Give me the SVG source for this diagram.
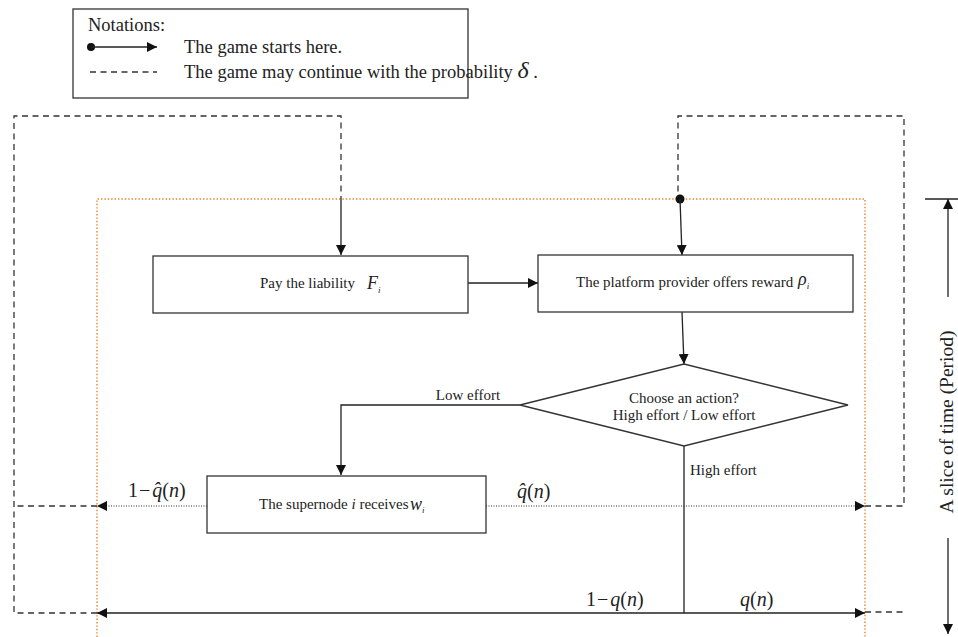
<svg xmlns="http://www.w3.org/2000/svg" width="958" height="637" viewBox="0 0 958 637">
<style>
text{font-family:"Liberation Serif","Times New Roman",serif;fill:#222}
.box{fill:#fff;stroke:#333;stroke-width:1.3}
.ln{fill:none;stroke:#222;stroke-width:1.3}
.dash{fill:none;stroke:#333;stroke-width:1.3;stroke-dasharray:6 4.5}
.dot{fill:none;stroke:#333;stroke-width:1.1;stroke-dasharray:1 1.5}
.or{fill:none;stroke:#e8822a;stroke-width:1.4;stroke-dasharray:1.4 2}
.t12{font-size:15px}
.t15{font-size:18.5px}
.m{font-style:italic;font-size:18px}
.mn{font-size:20px}
.i{font-style:italic}
</style>
<defs>
<marker id="ar" viewBox="0 0 10 10" refX="10" refY="5" markerWidth="10" markerHeight="10" markerUnits="userSpaceOnUse" orient="auto">
<path d="M0,0 L10,5 L0,10 z" fill="#111"/>
</marker>
</defs>

<g id="legend">
<rect x="73" y="9" width="395" height="89" class="box"/>
<text x="88" y="31" class="t15">Notations:</text>
<circle cx="91" cy="47" r="4" fill="#111"/>
<line x1="91" y1="47" x2="157" y2="47" class="ln" marker-end="url(#ar)"/>
<text x="184" y="53" class="t15">The game starts here.</text>
<line x1="90" y1="72" x2="157" y2="72" class="dash"/>
<text x="184" y="78" class="t15">The game may continue with the probability <tspan font-style="italic" font-size="24px">δ</tspan> .</text>
</g>

<g id="period-frame">
<path d="M97,637 V199 H865 V637" class="or"/>
</g>

<g id="connectors">
<path d="M97,613 H14 V116 H341 V199" class="dash"/>
<path d="M97,506 H14" class="dash"/>
<line x1="341" y1="199" x2="341" y2="255" class="ln" marker-end="url(#ar)"/>
<path d="M865,506 H904 V116 H678 V199" class="dash"/>
<path d="M865,612 H904" class="dash"/>
<circle cx="680" cy="199" r="4.5" fill="#111"/>
<line x1="680" y1="199" x2="682" y2="255" class="ln" marker-end="url(#ar)"/>
<line x1="468" y1="283" x2="538" y2="283" class="ln" marker-end="url(#ar)"/>
<line x1="682" y1="312" x2="684" y2="364" class="ln" marker-end="url(#ar)"/>
<path d="M520,405 H341 V475" class="ln" marker-end="url(#ar)"/>
<text x="468" y="400" class="t12" text-anchor="middle">Low effort</text>
<line x1="684" y1="446" x2="684" y2="613" class="ln"/>
<text x="690" y="475" class="t12">High effort</text>
<line x1="486" y1="506" x2="865" y2="506" class="dot" marker-end="url(#ar)"/>
<line x1="207" y1="506" x2="97" y2="506" class="dot" marker-end="url(#ar)"/>
<text x="517" y="498" class="mn"><tspan class="i">q̂</tspan>(<tspan class="i">n</tspan>)</text>
<text x="128" y="497" class="mn">1<tspan dx="1">−</tspan><tspan class="i" dx="2">q̂</tspan>(<tspan class="i">n</tspan>)</text>
<line x1="684" y1="613" x2="865" y2="613" class="ln" marker-end="url(#ar)"/>
<line x1="684" y1="613" x2="97" y2="613" class="ln" marker-end="url(#ar)"/>
<text x="586" y="606" class="mn">1<tspan dx="1">−</tspan><tspan class="i" dx="2">q</tspan>(<tspan class="i">n</tspan>)</text>
<text x="740" y="606" class="mn"><tspan class="i">q</tspan>(<tspan class="i">n</tspan>)</text>
</g>

<g id="pay-liability">
<rect x="153" y="256" width="315" height="57" class="box"/>
<text x="260" y="288" class="t12">Pay the liability</text>
<text x="367" y="289" class="m">F<tspan font-size="9px" dy="4">i</tspan></text>
</g>

<g id="platform-reward">
<rect x="538" y="255" width="315" height="57" class="box"/>
<text x="576" y="287" class="t12">The platform provider offers reward</text>
<text x="798" y="285" class="m" font-size="21px">ρ<tspan font-size="9px" dy="4">i</tspan></text>
</g>

<g id="choose-action">
<polygon points="520,405 684,364 848,405 684,446" class="box"/>
<text x="684" y="403" class="t12" text-anchor="middle">Choose an action?</text>
<text x="684" y="420" class="t12" text-anchor="middle">High effort / Low effort</text>
</g>

<g id="supernode">
<rect x="207" y="476" width="279" height="57" class="box"/>
<text x="259" y="509" class="t12" font-size="14px">The supernode <tspan class="i">i</tspan> receives</text>
<text x="410" y="510" class="m" font-size="21px">w<tspan font-size="9px" dy="3">i</tspan></text>
</g>

<g id="time-slice">
<line x1="925" y1="199" x2="958" y2="199" class="ln"/>
<line x1="948" y1="297" x2="948" y2="199" class="ln" marker-end="url(#ar)"/>
<line x1="948" y1="538" x2="948" y2="634" class="ln" marker-end="url(#ar)"/>
<text transform="translate(953,422) rotate(-90)" font-size="19.5px" text-anchor="middle">A slice of time (Period)</text>
</g>
</svg>
